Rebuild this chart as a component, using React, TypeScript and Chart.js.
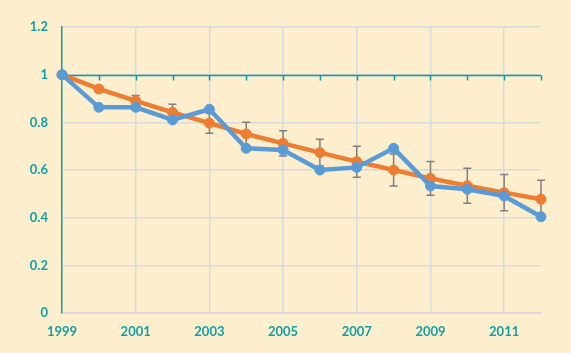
import React, { useEffect, useRef } from "react";
import { Chart, registerables } from "chart.js";

Chart.register(...registerables);

const years = ["1999","2000","2001","2002","2003","2004","2005","2006","2007","2008","2009","2010","2011","2012"];
const blueSeries = [1.0, 0.863, 0.863, 0.81, 0.855, 0.691, 0.684, 0.6, 0.611, 0.691, 0.533, 0.519, 0.491, 0.404];
const orangeSeries = [1.0, 0.94, 0.89, 0.842, 0.797, 0.751, 0.712, 0.673, 0.635, 0.6, 0.565, 0.534, 0.505, 0.477];
const orangeErrors = [0, 0.012, 0.023, 0.034, 0.043, 0.049, 0.053, 0.056, 0.065, 0.067, 0.071, 0.073, 0.076, 0.08];
const yTicks = [0, 0.2, 0.4, 0.6, 0.8, 1, 1.2];
const crossValue = 1;

const BG = "#FDEECE";
const TEAL = "#0AA0A3";
const TEXT = "#11A0A3";
const GRID = "#D9D9D9";
const BLUE = "#5B9BD5";
const ORANGE = "#ED7D31";
const ERR = "#7F7F7F";

const errorBarPlugin = {
  id: "errorBars",
  beforeDatasetsDraw(chart: any) {
    const { ctx, scales } = chart;
    const x = scales.x, y = scales.y;
    ctx.save();
    ctx.strokeStyle = ERR;
    ctx.lineWidth = 1.5;
    orangeSeries.forEach((v, i) => {
      const e = orangeErrors[i];
      if (!e) return;
      const px = x.getPixelForValue(i);
      const top = y.getPixelForValue(v + e);
      const bot = y.getPixelForValue(v - e);
      ctx.beginPath();
      ctx.moveTo(px, top);
      ctx.lineTo(px, bot);
      ctx.moveTo(px - 4, top);
      ctx.lineTo(px + 4, top);
      ctx.moveTo(px - 4, bot);
      ctx.lineTo(px + 4, bot);
      ctx.stroke();
    });
    ctx.restore();
  },
};

const crossAxisPlugin = {
  id: "crossAxis",
  beforeDatasetsDraw(chart: any) {
    const { ctx, scales, chartArea } = chart;
    const x = scales.x, y = scales.y;
    const py = Math.round(y.getPixelForValue(crossValue)) + 0.5;
    ctx.save();
    ctx.strokeStyle = TEAL;
    ctx.lineWidth = 1.5;
    ctx.beginPath();
    ctx.moveTo(chartArea.left, py);
    ctx.lineTo(chartArea.right, py);
    for (let i = 1; i < years.length; i++) {
      const px = Math.round(x.getPixelForValue(i)) + 0.5;
      ctx.moveTo(px, py);
      ctx.lineTo(px, py + 5);
    }
    ctx.stroke();
    ctx.restore();
  },
};

export default function App() {
  const ref = useRef<HTMLCanvasElement>(null);
  useEffect(() => {
    if (!ref.current) return;
    const font = { family: "Lato", size: 13, weight: "bold" as const };
    const chart = new Chart(ref.current, {
      type: "line",
      data: {
        labels: years,
        datasets: [
          {
            data: blueSeries,
            borderColor: BLUE,
            backgroundColor: BLUE,
            borderWidth: 4.5,
            pointRadius: 5,
            pointBorderWidth: 1,
            pointBackgroundColor: BLUE,
            pointBorderColor: BLUE,
            order: 0,
            clip: false as any,
          },
          {
            data: orangeSeries,
            borderColor: ORANGE,
            backgroundColor: ORANGE,
            borderWidth: 4.5,
            pointRadius: 5,
            pointBorderWidth: 1,
            pointBackgroundColor: ORANGE,
            pointBorderColor: ORANGE,
            order: 1,
            clip: false as any,
          },
        ],
      },
      options: {
        animation: false,
        responsive: false,
        devicePixelRatio: 1,
        layout: { padding: { top: 27, right: 30, left: 0, bottom: 0 } },
        plugins: { legend: { display: false }, tooltip: { enabled: false } },
        scales: {
          x: {
            type: "category",
            offset: false,
            border: { color: GRID, width: 1.5 },
            grid: {
              drawTicks: false,
              color: (c: any) => (c.index > 0 && c.index % 2 === 0 ? GRID : "rgba(0,0,0,0)"),
              lineWidth: 1.5,
            },
            ticks: {
              autoSkip: false,
              maxRotation: 0,
              padding: 11,
              color: TEXT,
              font,
              callback: (_v: any, i: number) => (i % 2 === 0 ? years[i] : ""),
            },
            afterFit: (s: any) => { s.height = 40; },
          },
          y: {
            min: 0,
            max: 1.2,
            border: { color: TEAL, width: 1.5 },
            grid: { drawTicks: false, color: GRID, lineWidth: 1.5 },
            afterBuildTicks: (s: any) => { s.ticks = yTicks.map((v) => ({ value: v })); },
            ticks: {
              padding: 14,
              color: TEXT,
              font,
              callback: (v: any) => String(Number(Number(v).toFixed(1))),
            },
            afterFit: (s: any) => { s.width = 62; },
          },
        },
      },
      plugins: [errorBarPlugin, crossAxisPlugin],
    });
    return () => chart.destroy();
  }, []);
  return (
    <div style={{ position: "fixed", left: 0, top: 0, width: 571, height: 353, background: BG }}>
      <canvas ref={ref} width={571} height={353} style={{ display: "block", width: 571, height: 353 }} />
    </div>
  );
}
